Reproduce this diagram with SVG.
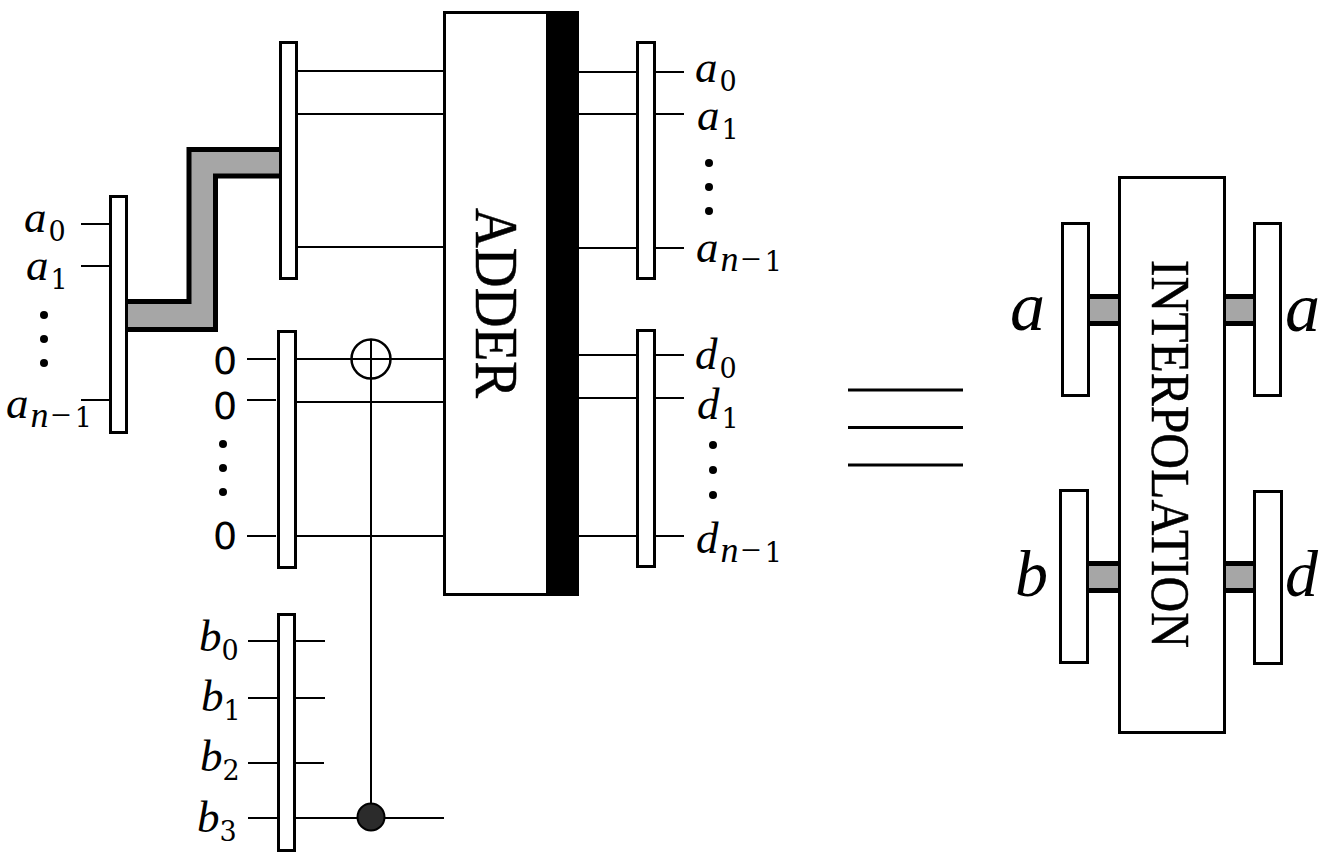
<svg xmlns="http://www.w3.org/2000/svg" width="1332" height="858" viewBox="0 0 1332 858">
<style>
.b{fill:#fff;stroke:#000;stroke-width:3}
.w{stroke:#000;stroke-width:2;fill:none}
.g{fill:#a6a6a6;stroke:none}
.t{stroke:#000;stroke-width:5;fill:none}
.m{font-family:"Liberation Serif",serif;font-style:italic;font-size:45px;fill:#000}
.m tspan.s{font-family:"DejaVu Serif",serif;font-style:normal;font-size:27px}
.m tspan.n{font-size:36px}
.L{font-family:"Liberation Serif",serif;font-style:italic;font-size:70px;fill:#000}
.L2{font-family:"Liberation Serif",serif;font-style:italic;font-size:66px;fill:#000}
.z{font-family:"DejaVu Sans",sans-serif;font-size:38px;fill:#000}
.c{font-family:"Liberation Serif",serif;fill:#000;stroke:#000;stroke-width:.5}
</style>
<g id="connectors">
<path class="w" d="M81 224H110M81 266H110M81 400H110"/>
<path class="w" d="M298 71H444M298 114H444M298 247H444"/>
<path class="w" d="M247 359H276M247 400H276M247 536H276M297 359H444M297 402H444M297 536H444"/>
<path class="w" d="M248 641H325M248 698H325M248 763H324M248 818H444M371 339V818"/>
<path class="w" d="M579 72H684M579 114H684M579 248H684"/>
<path class="w" d="M579 355H684M579 398H684M579 536H684"/>
<path class="w" d="M848 390H963M848 427.500H963M848 465H963" style="stroke-width:3"/>
<path class="g" d="M126 301H189V149H280V176H215V329H126Z"/>
<path class="t" d="M126 301.500H189V149.500H280M126 329.500H215.500V176H280"/>
<g id="bus-a-in"><rect class="g" x="1089" y="296" width="31" height="27"/><path class="t" d="M1089 296.500H1120M1089 323.500H1120"/></g>
<g id="bus-b-in"><rect class="g" x="1088" y="563" width="32" height="27"/><path class="t" d="M1088 563.500H1120M1088 590.500H1120"/></g>
<g id="bus-a-out"><rect class="g" x="1224" y="296" width="30" height="27"/><path class="t" d="M1224 296.500H1254M1224 323.500H1254"/></g>
<g id="bus-d-out"><rect class="g" x="1224" y="563" width="31" height="27"/><path class="t" d="M1224 563.500H1255M1224 590.500H1255"/></g>
</g>
<g id="adder"><rect class="b" x="444.500" y="12.500" width="104" height="582"/><rect x="546" y="11" width="33" height="585" fill="#000"/><text class="c" transform="translate(476 208) rotate(90)" font-size="62" textLength="190" lengthAdjust="spacingAndGlyphs">ADDER</text></g>
<g id="interpolation"><rect class="b" x="1119.500" y="177.500" width="105" height="555"/><text class="c" transform="translate(1152 260) rotate(90)" font-size="54" textLength="388" lengthAdjust="spacingAndGlyphs">INTERPOLATION</text></g>
<g id="reg-a-in"><rect class="b" x="110.500" y="196.500" width="16" height="236"/></g>
<g id="reg-a-mid"><rect class="b" x="280.500" y="42.500" width="16" height="236"/></g>
<g id="reg-zero"><rect class="b" x="278.500" y="331.500" width="17" height="236"/></g>
<g id="reg-b"><rect class="b" x="278.500" y="614.500" width="16" height="236"/></g>
<g id="reg-a-out"><rect class="b" x="637.500" y="42.500" width="17" height="236"/></g>
<g id="reg-d-out"><rect class="b" x="637.500" y="330.500" width="17" height="236"/></g>
<g id="reg-a2-in"><rect class="b" x="1062.500" y="223.500" width="26" height="172"/></g>
<g id="reg-b2-in"><rect class="b" x="1060.500" y="490.500" width="27" height="172"/></g>
<g id="reg-a2-out"><rect class="b" x="1254.500" y="223.500" width="26" height="172"/></g>
<g id="reg-d2-out"><rect class="b" x="1254.500" y="491.500" width="27" height="172"/></g>
<g id="xor"><circle cx="371" cy="359" r="19.500" fill="none" stroke="#000" stroke-width="2.500"/></g>
<g id="control"><circle cx="371" cy="817" r="13.500" fill="#2b2b2b" stroke="#000" stroke-width="2"/></g>
<g id="dots" fill="#000">
<circle cx="44" cy="315" r="4"/><circle cx="44" cy="339" r="4"/><circle cx="44" cy="363" r="4"/>
<circle cx="223" cy="444" r="4"/><circle cx="223" cy="468" r="4"/><circle cx="223" cy="492" r="4"/>
<circle cx="709" cy="163" r="4"/><circle cx="709" cy="187" r="4"/><circle cx="709" cy="211" r="4"/>
<circle cx="713" cy="445" r="4"/><circle cx="713" cy="470" r="4"/><circle cx="713" cy="495" r="4"/>
</g>
<g id="labels">
<text class="m" x="24" y="232">a<tspan class="s" dx="2" dy="9">0</tspan></text>
<text class="m" x="26" y="280">a<tspan class="s" dx="2" dy="9">1</tspan></text>
<text class="m" x="6" y="418">a<tspan class="n" dx="2" dy="9">n−</tspan><tspan class="s" dx="2">1</tspan></text>
<text class="z" x="213" y="374">0</text><text class="z" x="213" y="419">0</text><text class="z" x="213" y="549">0</text>
<text class="m" x="199" y="651">b<tspan class="s" dy="9">0</tspan></text>
<text class="m" x="201" y="711">b<tspan class="s" dy="9">1</tspan></text>
<text class="m" x="200" y="771">b<tspan class="s" dy="9">2</tspan></text>
<text class="m" x="197" y="832">b<tspan class="s" dy="9">3</tspan></text>
<text class="m" x="695" y="82">a<tspan class="s" dx="2" dy="9">0</tspan></text>
<text class="m" x="697" y="130">a<tspan class="s" dx="2" dy="9">1</tspan></text>
<text class="m" x="696" y="262">a<tspan class="n" dx="2" dy="9">n−</tspan><tspan class="s" dx="2">1</tspan></text>
<text class="m" x="695" y="369">d<tspan class="s" dx="2" dy="9">0</tspan></text>
<text class="m" x="697" y="419">d<tspan class="s" dx="2" dy="9">1</tspan></text>
<text class="m" x="696" y="553">d<tspan class="n" dx="2" dy="9">n−</tspan><tspan class="s" dx="2">1</tspan></text>
<text class="L" x="1010" y="330">a</text><text class="L" x="1285" y="331">a</text>
<text class="L2" x="1015" y="596">b</text><text class="L2" x="1285" y="596">d</text>
</g>
</svg>
